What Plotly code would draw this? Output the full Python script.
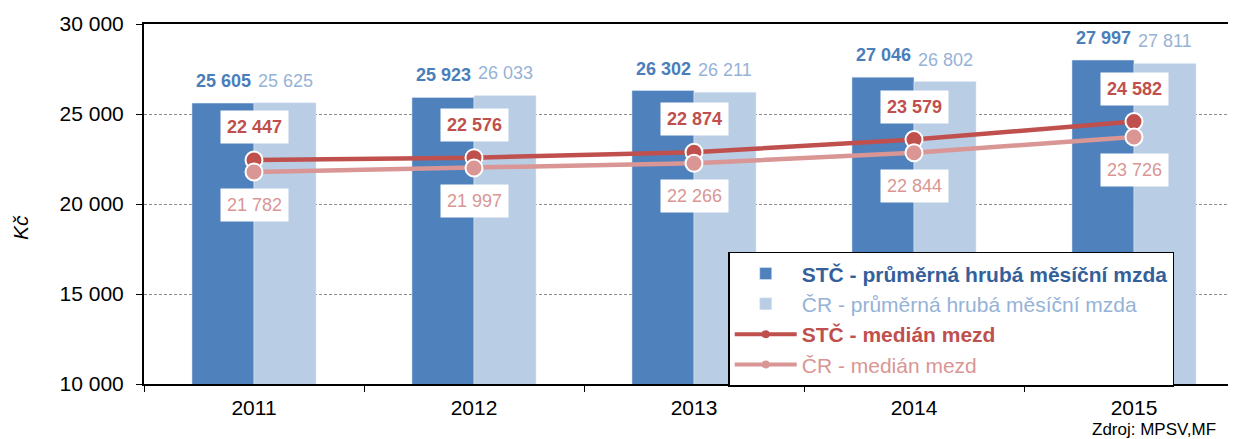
import plotly.graph_objects as go

# ============================================================
# Data
# ============================================================
years = ["2011", "2012", "2013", "2014", "2015"]
stc_avg = [25605, 25923, 26302, 27046, 27997]   # STČ - průměrná hrubá měsíční mzda
cr_avg = [25625, 26033, 26211, 26802, 27811]    # ČR - průměrná hrubá měsíční mzda
stc_med = [22447, 22576, 22874, 23579, 24582]   # STČ - medián mezd
cr_med = [21782, 21997, 22266, 22844, 23726]    # ČR - medián mezd

y_ticks = [10000, 15000, 20000, 25000, 30000]

DARK_BLUE = "#4F81BD"
LIGHT_BLUE = "#B9CDE5"
RED = "#C0504D"
PINK = "#D99694"
FONT = "Liberation Sans, Arial, sans-serif"


def fmt(v):
    return f"{v:,}".replace(",", " ")


fig = go.Figure()

# bars
fig.add_trace(go.Bar(x=years, y=stc_avg, marker_color=DARK_BLUE,
                     name='<span style="color:#34609A"><b>STČ - průměrná hrubá měsíční mzda</b></span>',
                     hovertemplate="%{x}: %{y}<extra></extra>"))
fig.add_trace(go.Bar(x=years, y=cr_avg, marker_color=LIGHT_BLUE,
                     name='<span style="color:#95B3D7">ČR - průměrná hrubá měsíční mzda</span>',
                     hovertemplate="%{x}: %{y}<extra></extra>"))

# median lines
fig.add_trace(go.Scatter(x=years, y=stc_med, mode="lines+markers", showlegend=False,
                         line=dict(color=RED, width=4.5),
                         marker=dict(size=17, color=RED, line=dict(color="white", width=2))))
fig.add_trace(go.Scatter(x=years, y=cr_med, mode="lines+markers", showlegend=False,
                         line=dict(color=PINK, width=4.5),
                         marker=dict(size=17, color=PINK, line=dict(color="white", width=2))))

# legend-only traces for the lines (smaller markers in the legend)
fig.add_trace(go.Scatter(x=[None], y=[None], mode="lines+markers", line=dict(color=RED, width=4),
                         marker=dict(size=8, color=RED),
                         name='<span style="color:#C0504D"><b>STČ - medián mezd</b></span>'))
fig.add_trace(go.Scatter(x=[None], y=[None], mode="lines+markers", line=dict(color=PINK, width=4),
                         marker=dict(size=8, color=PINK),
                         name='<span style="color:#D99694">ČR - medián mezd</span>'))

annotations = []
for i, (a, b, m1, m2) in enumerate(zip(stc_avg, cr_avg, stc_med, cr_med)):
    annotations.append(dict(x=i, y=a, text=f"<b>{fmt(a)}</b>", showarrow=False, xshift=-31, yshift=22,
                            font=dict(size=18, color="#4A7EBB")))
    annotations.append(dict(x=i, y=b, text=fmt(b), showarrow=False, xshift=31, yshift=22,
                            font=dict(size=18, color="#95B3D7")))
    annotations.append(dict(x=i, y=m1, text=f"<b>{fmt(m1)}</b>", showarrow=False, yshift=33,
                            bgcolor="white", borderpad=6, font=dict(size=18, color=RED)))
    annotations.append(dict(x=i, y=m2, text=fmt(m2), showarrow=False, yshift=-33,
                            bgcolor="white", borderpad=6, font=dict(size=18, color=PINK)))

annotations.append(dict(xref="paper", yref="paper", x=-0.1136, y=0.436, xanchor="center", yanchor="middle",
                        text="<i>Kč</i>", textangle=-90, showarrow=False, font=dict(size=21, color="black")))
annotations.append(dict(xref="paper", yref="paper", x=0.9835, y=-0.126, xanchor="right", yanchor="middle",
                        text="Zdroj: MPSV,MF", showarrow=False, font=dict(size=17, color="black")))

# the page body adds 8 px around the figure, so the figure is 8 px smaller
fig.update_layout(
    width=1228,
    height=431,
    barmode="group",
    bargap=0.436,
    bargroupgap=0,
    separators=", ",
    plot_bgcolor="white",
    paper_bgcolor="white",
    font=dict(family=FONT, size=21, color="black"),
    margin=dict(l=136, r=0, t=16, b=55),
    annotations=annotations,
    legend=dict(
        x=0.535, y=0.367, xanchor="left", yanchor="top",
        bgcolor="white", bordercolor="black", borderwidth=1.5,
        font=dict(size=21), itemwidth=62, tracegroupgap=0,
    ),
)

fig.update_xaxes(
    type="category",
    range=[-0.5, 4.4636],
    showline=True, linecolor="black", linewidth=2, mirror=True,
    ticks="outside", tickson="boundaries", ticklen=6, tickcolor="black",
    ticklabelstandoff=4,
    showgrid=False,
    tickfont=dict(size=21, color="black"),
)
fig.update_yaxes(
    range=[10000, 30000],
    tickvals=y_ticks,
    tickformat=",d",
    showline=True, linecolor="black", linewidth=2,
    ticks="outside", ticklen=6, tickcolor="black",
    ticklabelstandoff=8,
    showgrid=True, gridcolor="#8C8C8C", gridwidth=1, griddash="3px,2px",
    zeroline=False,
    tickfont=dict(size=21, color="black"),
)

fig.write_html("out.html")
